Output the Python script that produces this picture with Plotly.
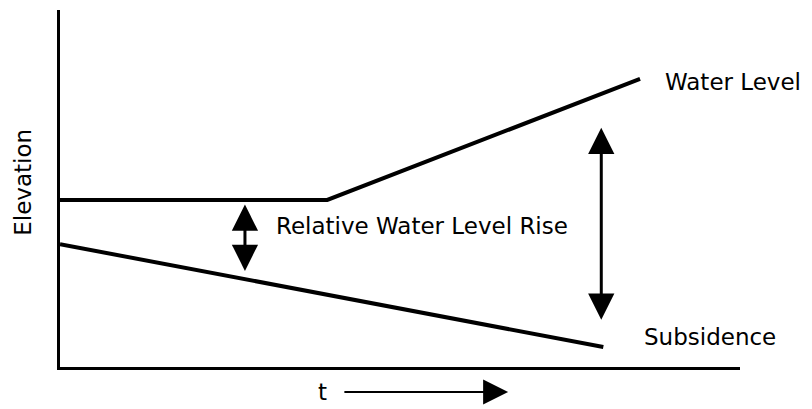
import plotly.graph_objects as go

# ---- data (t and elevation in arbitrary units, 0-100) ----
t_water = [0, 39.3, 85.3]
elev_water = [46.8, 46.8, 80.7]

t_subs = [0, 79.9]
elev_subs = [34.4, 5.6]

# double arrows: [t, elevation top, elevation bottom]
rel_rise_arrow = [27.2, 45.5, 26.5]
total_rise_arrow = [79.6, 67.0, 12.8]

# time arrow along the t label: [t start, t end]
t_arrow = [41.6, 65.9]

labels = {
    "water": "Water Level",
    "subs": "Subsidence",
    "rel": "Relative Water Level Rise",
    "y": "Elevation",
    "x": "t",
}

FONT = "DejaVu Sans"

fig = go.Figure()
fig.add_trace(go.Scatter(x=t_water, y=elev_water, mode="lines",
                         line=dict(color="black", width=4), showlegend=False,
                         hoverinfo="skip"))
fig.add_trace(go.Scatter(x=t_subs, y=elev_subs, mode="lines",
                         line=dict(color="black", width=4), showlegend=False,
                         hoverinfo="skip"))

annotations = []
for arr in (rel_rise_arrow, total_rise_arrow):
    annotations.append(dict(
        x=arr[0], y=arr[1], ax=arr[0], ay=arr[2],
        xref="x", yref="y", axref="x", ayref="y",
        text="", showarrow=True, arrowside="end+start",
        arrowhead=2, startarrowhead=2, arrowsize=1.75, startarrowsize=1.75,
        arrowwidth=3, arrowcolor="black", standoff=0, startstandoff=0))

# time arrow below the x axis
annotations.append(dict(
    x=t_arrow[1], y=-0.07, ax=t_arrow[0], ay=0,
    xref="x", yref="paper", axref="x", ayref="pixel",
    text="", showarrow=True, arrowhead=2, arrowsize=2.5,
    arrowwidth=2, arrowcolor="black", standoff=0))

annotations += [
    dict(x=88.7, y=79.9, xref="x", yref="y", text=labels["water"],
         showarrow=False, xanchor="left", yanchor="middle",
         font=dict(family=FONT, size=23, color="black")),
    dict(x=85.6, y=8.4, xref="x", yref="y", text=labels["subs"],
         showarrow=False, xanchor="left", yanchor="middle",
         font=dict(family=FONT, size=23, color="black")),
    dict(x=31.4, y=39.4, xref="x", yref="y", text=labels["rel"],
         showarrow=False, xanchor="left", yanchor="middle",
         font=dict(family=FONT, size=23, color="black")),
    dict(x=-0.054, y=51.7, xref="paper", yref="y", text=labels["y"],
         showarrow=False, xanchor="center", yanchor="middle", textangle=-90,
         font=dict(family=FONT, size=23, color="black")),
    dict(x=39.6, y=-0.07, xref="x", yref="paper", text=labels["x"],
         showarrow=False, xanchor="right", yanchor="middle",
         font=dict(family=FONT, size=23, color="black")),
]

# page body has an 8px margin, so the figure is sized/offset to compensate
fig.update_layout(
    width=804, height=401,
    margin=dict(l=52, r=72, t=2, b=42),
    paper_bgcolor="white", plot_bgcolor="white",
    annotations=annotations,
    xaxis=dict(range=[0, 100], showline=True, linewidth=3, linecolor="black",
               showgrid=False, zeroline=False, showticklabels=False, ticks=""),
    yaxis=dict(range=[0, 100], showline=True, linewidth=3, linecolor="black",
               showgrid=False, zeroline=False, showticklabels=False, ticks=""),
)

fig.write_html("out.html")
